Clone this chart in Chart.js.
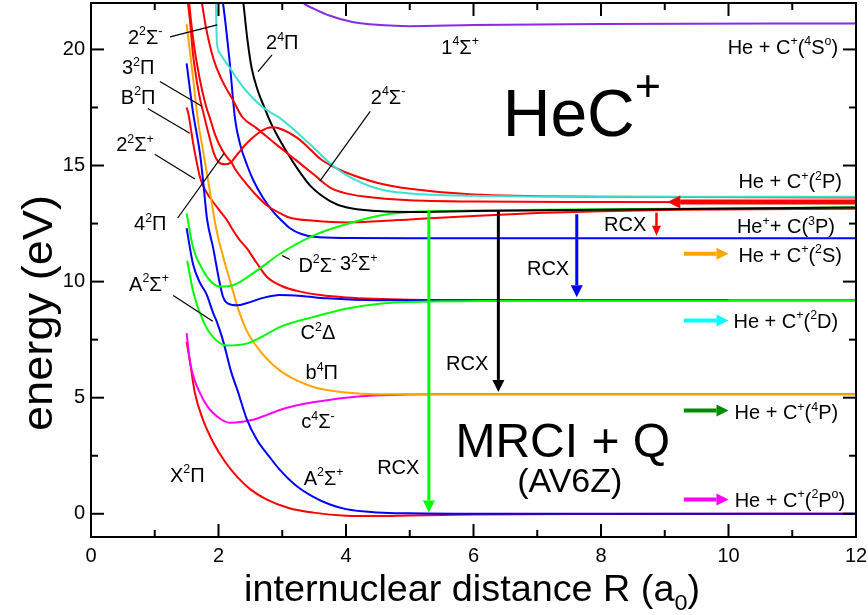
<!DOCTYPE html>
<html>
<head>
<meta charset="utf-8">
<script src="https://cdn.jsdelivr.net/npm/chart.js@4.4.1/dist/chart.umd.min.js"></script>
<style>
  html, body { margin: 0; padding: 0; background: #fff; }
  canvas { display: block; }
</style>
</head>
<body>
<canvas id="chart" width="868" height="615"></canvas>
<script>
// HeC+ potential energy curves, R in a0, E in eV
const rX2Pi = [1.5, 1.55, 1.63, 1.75, 1.92, 2.1, 2.29, 2.5, 2.76, 3.1, 3.49, 4.0, 4.5, 5.0, 6.0, 8.0, 12.0];
const eX2Pi = [7.4, 6.6, 5.2, 4.1, 3.06, 2.25, 1.6, 1.05, 0.61, 0.25, 0.05, -0.08, -0.1, -0.07, -0.03, -0.01, 0];

const rB2Pi = [1.5, 1.53, 1.6, 1.71, 1.8, 1.87, 2.02, 2.12, 2.23, 2.33, 2.44, 2.6, 2.76, 3.0, 3.23, 3.6, 4.0, 5.0, 6.0, 12.0];
const eB2Pi = [17.5, 17.2, 16.0, 14.5, 13.9, 13.6, 13.05, 12.7, 12.2, 11.8, 11.45, 10.8, 10.2, 9.8, 9.6, 9.42, 9.32, 9.22, 9.2, 9.2];

const rc4Sm = [1.5, 1.55, 1.62, 1.71, 1.82, 1.92, 2.05, 2.18, 2.35, 2.54, 2.75, 2.96, 3.2, 3.48, 4.0, 4.53, 5.5, 12.0];
const ec4Sm = [7.78, 6.6, 5.8, 5.2, 4.65, 4.33, 4.05, 3.92, 3.95, 4.05, 4.25, 4.47, 4.65, 4.8, 5.0, 5.1, 5.15, 5.15];

const rb4Pi = [1.5, 1.6, 1.68, 1.76, 1.84, 1.97, 2.08, 2.18, 2.3, 2.44, 2.6, 2.75, 2.95, 3.15, 3.5, 4.0, 4.5, 6.0, 12.0];
const eb4Pi = [21.1, 18.8, 16.9, 15.6, 14.3, 12.2, 11.0, 10.05, 8.9, 7.9, 7.2, 6.7, 6.2, 5.85, 5.45, 5.22, 5.15, 5.15, 5.15];

const rA2Sp = [1.5, 1.6, 1.7, 1.81, 1.92, 1.97, 2.07, 2.2, 2.3, 2.44, 2.6, 2.8, 2.96, 3.2, 3.48, 3.75, 4.0, 4.5, 5.0, 6.0, 12.0];
const eA2Sp = [12.3, 10.76, 10.0, 9.47, 8.62, 8.3, 7.47, 6.1, 5.3, 4.1, 3.2, 2.45, 1.9, 1.25, 0.74, 0.4, 0.2, 0.06, 0.02, 0, 0];

const rBlue2D = [1.5, 1.6, 1.71, 1.76, 1.82, 1.92, 2.0, 2.07, 2.15, 2.29, 2.45, 2.7, 2.96, 3.3, 3.7, 4.5, 6.0, 10.0];
const eBlue2D = [19.4, 17.3, 15.5, 14.3, 12.7, 11.4, 10.2, 9.35, 9.05, 8.98, 9.08, 9.3, 9.42, 9.38, 9.28, 9.2, 9.2, 9.2];

const rC2Delta = [1.51, 1.6, 1.76, 1.92, 2.13, 2.44, 2.7, 2.96, 3.48, 4.0, 4.53, 5.5, 7.0, 12.0];
const eC2Delta = [10.9, 9.6, 8.3, 7.6, 7.25, 7.33, 7.65, 8.04, 8.47, 8.83, 9.05, 9.15, 9.18, 9.18];

const r14Sp = [3.2, 3.33, 3.5, 3.75, 4.1, 4.53, 5.0, 6.0, 8.0, 12.0];
const e14Sp = [22.5, 22.0, 21.75, 21.45, 21.18, 21.05, 21.0, 21.05, 21.1, 21.12];

const r32Sp = [2.0, 2.07, 2.17, 2.26, 2.34, 2.45, 2.54, 2.7, 2.86, 3.0, 3.12, 3.3, 3.5, 4.0, 5.0, 12.0];
const e32Sp = [23.0, 22.0, 19.6, 17.0, 15.9, 15.0, 14.4, 13.6, 13.0, 12.6, 12.3, 12.05, 11.93, 11.88, 11.87, 11.87];

const rRedMin = [1.52, 1.6, 1.7, 1.8, 1.87, 1.95, 2.05, 2.15, 2.2, 2.26, 2.44, 2.6, 2.75, 3.0, 3.12, 3.5, 4.0, 4.5, 5.0, 6.0, 7.0, 8.0, 9.2, 12.0];
const eRedMin = [22.5, 20.5, 18.8, 17.6, 17.0, 16.3, 15.7, 15.3, 15.15, 14.85, 14.2, 13.7, 13.3, 12.9, 12.75, 12.62, 12.55, 12.6, 12.68, 12.83, 12.95, 13.03, 13.1, 13.14];

const rD2Sm = [1.5, 1.6, 1.76, 1.9, 2.02, 2.15, 2.28, 2.6, 2.96, 3.48, 4.0, 4.53, 5.0, 6.0, 8.0, 12.0];
const eD2Sm = [12.94, 11.47, 10.47, 9.95, 9.79, 9.8, 9.9, 10.47, 11.19, 11.97, 12.47, 12.85, 13.0, 13.06, 13.12, 13.2];

const r24Pi = [2.33, 2.39, 2.45, 2.52, 2.62, 2.72, 2.81, 2.95, 3.1, 3.23, 3.45, 3.75, 4.0, 4.5, 5.0, 6.0, 8.0, 12.0];
const e24Pi = [23.3, 22.0, 20.5, 19.2, 18.2, 17.5, 16.9, 16.15, 15.45, 14.9, 14.1, 13.47, 13.2, 13.04, 13.0, 13.04, 13.1, 13.19];

const r24Sm = [1.7, 1.74, 1.8, 1.92, 2.05, 2.23, 2.37, 2.6, 2.91, 3.23, 3.5, 3.75, 4.0, 4.5, 5.0, 6.0, 8.0, 12.0];
const e24Sm = [22.6, 22.0, 21.0, 19.6, 18.7, 17.8, 17.1, 16.6, 15.9, 15.2, 14.6, 14.05, 13.8, 13.6, 13.5, 13.45, 13.43, 13.42];

const rRedBump = [1.5, 1.55, 1.6, 1.7, 1.76, 1.85, 1.93, 2.0, 2.1, 2.18, 2.3, 2.44, 2.6, 2.75, 2.86, 3.0, 3.23, 3.4, 3.59, 3.8, 4.0, 4.5, 5.0, 6.0, 8.0, 12.0];
const eRedBump = [22.5, 21.3, 19.8, 18.0, 17.3, 16.3, 15.5, 15.15, 15.05, 15.1, 15.5, 15.95, 16.35, 16.6, 16.65, 16.55, 16.2, 15.8, 15.3, 14.95, 14.7, 14.25, 14.0, 13.75, 13.66, 13.62];

const r22Sm = [1.955, 1.965, 1.975, 2.02, 2.1, 2.18, 2.3, 2.44, 2.7, 2.96, 3.2, 3.48, 3.75, 4.0, 4.5, 5.0, 6.0, 8.0, 12.0];
const e22Sm = [22.5, 21.2, 20.3, 19.85, 19.5, 19.2, 18.7, 18.2, 17.5, 17.05, 16.5, 15.8, 15.1, 14.6, 14.0, 13.8, 13.7, 13.66, 13.65];

// charge-transfer (RCX) arrows: R, start E, end E
const rcxR = [5.3, 6.39, 7.62, 8.87];
const rcxFrom = [13.05, 13.07, 12.9, 12.97];
const rcxTo = [0.05, 5.25, 9.33, 11.97];

// entrance-channel arrows on the right
const chanE = [11.2, 8.33, 4.45, 0.61];
const chanR0 = 9.3, chanR1 = 10.0;
const inR0 = 12.0, inR1 = 9.04, inE = 13.43;

const xTicks = [0, 2, 4, 6, 8, 10, 12];
const xMinor = [1, 3, 5, 7, 9, 11];
const yTicks = [0, 5, 10, 15, 20];
const yMinor = [2.5, 7.5, 12.5, 17.5];

// curves, bottom first
const curves = [
    [rX2Pi, eX2Pi, '#ff0000'],
    [rB2Pi, eB2Pi, '#ff0000'],
    [rc4Sm, ec4Sm, '#ff00ff'],
    [rb4Pi, eb4Pi, '#ffa500'],
    [rA2Sp, eA2Sp, '#0000ff'],
    [rBlue2D, eBlue2D, '#0000ff'],
    [rC2Delta, eC2Delta, '#00ff00'],
    [r14Sp, e14Sp, '#8a2be2'],
    [r32Sp, e32Sp, '#0000ff'],
    [rRedMin, eRedMin, '#ff0000'],
    [rD2Sm, eD2Sm, '#00ff00'],
    [r24Pi, e24Pi, '#000000'],
    [r24Sm, e24Sm, '#ff0000'],
    [rRedBump, eRedBump, '#ff0000'],
    [r22Sm, e22Sm, '#40e0d0']
];

const FAM = "'Liberation Sans', Arial, Helvetica, sans-serif";

// state labels: text, R, E (centre)
const stateLabels = [
    ['2^2Σ^-', 0.85, 20.55], ['3^2Π', 0.74, 19.25], ['B^2Π', 0.74, 17.97], ['2^2Σ^+', 0.69, 15.92],
    ['4^2Π', 0.93, 12.53], ['A^2Σ^+', 0.91, 9.92], ['2^4Π', 3.0, 20.33], ['2^4Σ^-', 4.66, 17.97],
    ['1^4Σ^+', 5.79, 20.12], ['D^2Σ^-', 3.55, 10.73], ['3^2Σ^+', 4.2, 10.81], ['C^2Δ', 3.56, 7.82],
    ['b^4Π', 3.62, 6.1], ['c^4Σ^-', 3.56, 4.0], ['X^2Π', 1.51, 1.69], ['A^2Σ^+', 3.65, 1.56],
    ['RCX', 4.82, 2.03], ['RCX', 5.9, 6.49], ['RCX', 7.17, 10.6], ['RCX', 8.38, 12.49]
];
const pointers = [
    [1.24, 20.54, 1.98, 21.06], [1.08, 18.62, 1.74, 17.55], [0.89, 17.46, 1.55, 16.39],
    [1.0, 15.49, 1.63, 14.42], [1.36, 12.74, 2.09, 15.53], [1.29, 9.4, 1.91, 8.29],
    [2.84, 19.77, 2.62, 19.04], [4.38, 17.33, 3.59, 14.33], [3.0, 11.12, 3.12, 10.95]
];
const channelLabels = [
    ['He + C^+(^4S^o)', 11.72, 20.12], ['He + C^+(^2P)', 11.78, 14.33], ['He^++ C(^3P)', 11.67, 12.4],
    ['He + C^+(^2S)', 11.78, 11.16], ['He + C^+(^2D)', 11.72, 8.33], ['He + C^+(^4P)', 11.72, 4.39],
    ['He + C^+(^2P^o)', 11.83, 0.61]
];

function richParts(ctx, str, size, supScale) {
    const parts = [];
    for (let i = 0; i < str.length; i++) {
        const c = str[i];
        if ((c === '^' || c === '_') && i + 1 < str.length) { parts.push({ t: str[i + 1], k: c }); i++; }
        else if (parts.length && parts[parts.length - 1].k === '') parts[parts.length - 1].t += c;
        else parts.push({ t: c, k: '' });
    }
    let w = 0;
    parts.forEach(p => {
        p.s = p.k ? size * (supScale || 0.62) : size;
        ctx.font = p.s + 'px ' + FAM;
        p.w = ctx.measureText(p.t).width;
        w += p.w;
    });
    return { parts, w };
}

function drawRich(ctx, str, x, y, size, align, supScale, supRaise) {
    const { parts, w } = richParts(ctx, str, size, supScale);
    let cx = align === 'right' ? x - w : align === 'center' ? x - w / 2 : x;
    const base = y + size * 0.36;
    ctx.textAlign = 'left';
    ctx.textBaseline = 'alphabetic';
    parts.forEach(p => {
        ctx.font = p.s + 'px ' + FAM;
        const dy = p.k === '^' ? -size * (supRaise || 0.42) : p.k === '_' ? size * 0.24 : 0;
        ctx.fillText(p.t, cx, base + dy);
        cx += p.w;
    });
    return w;
}

function arrow(ctx, x0, y0, x1, y1, color, w, headL, headW) {
    const dx = x1 - x0, dy = y1 - y0, L = Math.hypot(dx, dy), ux = dx / L, uy = dy / L;
    const bx = x1 - ux * headL, by = y1 - uy * headL;
    ctx.strokeStyle = color;
    ctx.lineWidth = w;
    ctx.beginPath(); ctx.moveTo(x0, y0); ctx.lineTo(bx, by); ctx.stroke();
    ctx.fillStyle = color;
    ctx.beginPath();
    ctx.moveTo(x1, y1);
    ctx.lineTo(bx - uy * headW / 2, by + ux * headW / 2);
    ctx.lineTo(bx + uy * headW / 2, by - ux * headW / 2);
    ctx.closePath(); ctx.fill();
}

const decor = {
    id: 'decor',
    afterDatasetsDraw(chart) {
        const { ctx, chartArea: a, scales: { x, y } } = chart;
        const px = v => x.getPixelForValue(v), py = v => y.getPixelForValue(v);
        ctx.save();
        ctx.beginPath(); ctx.rect(a.left, a.top, a.right - a.left, a.bottom - a.top); ctx.clip();

        // RCX arrows
        const rcxCol = ['#00ff00', '#000000', '#0000ff', '#ff0000'];
        const rcxW = [3, 3, 3, 2.5];
        rcxR.forEach((r, i) => {
            arrow(ctx, px(r), py(rcxFrom[i]), px(r), py(rcxTo[i]), rcxCol[i], rcxW[i], i === 3 ? 10 : 12, i === 3 ? 9 : 12);
        });
        // incoming channel arrow
        arrow(ctx, px(inR0) + 4, py(inE), px(inR1), py(inE), '#ff0000', 5, 13, 13);
        // exit channel arrows
        const chanCol = ['#ffa500', '#00ffff', '#008c00', '#ff00ff'];
        chanE.forEach((e, i) => arrow(ctx, px(chanR0), py(e), px(chanR1), py(e), chanCol[i], 4, 12, 12));

        // pointer lines
        ctx.strokeStyle = '#000'; ctx.lineWidth = 1.2;
        pointers.forEach(p => {
            ctx.beginPath(); ctx.moveTo(px(p[0]), py(p[1])); ctx.lineTo(px(p[2]), py(p[3])); ctx.stroke();
        });

        ctx.fillStyle = '#000';
        stateLabels.forEach(l => drawRich(ctx, l[0], px(l[1]), py(l[2]), 20, 'center'));
        channelLabels.forEach(l => drawRich(ctx, l[0], px(l[1]), py(l[2]), 20, 'right'));
        drawRich(ctx, 'HeC^+', px(7.7), py(17.31), 66, 'center', 0.68, 0.52);
        drawRich(ctx, 'MRCI + Q', px(7.4), py(3.18), 48, 'center');
        drawRich(ctx, '(AV6Z)', px(7.51), py(1.47), 34, 'center');
        ctx.restore();

        // frame and inward ticks
        ctx.save();
        ctx.strokeStyle = '#000';
        ctx.lineWidth = 2;
        ctx.strokeRect(a.left, a.top, a.right - a.left, a.bottom - a.top);
        const tick = (x0, y0, x1, y1) => { ctx.beginPath(); ctx.moveTo(x0, y0); ctx.lineTo(x1, y1); ctx.stroke(); };
        xTicks.forEach(v => { const p = px(v); tick(p, a.bottom, p, a.bottom - 13); tick(p, a.top, p, a.top + 13); });
        xMinor.forEach(v => { const p = px(v); tick(p, a.bottom, p, a.bottom - 7); tick(p, a.top, p, a.top + 7); });
        yTicks.forEach(v => { const p = py(v); tick(a.left, p, a.left + 13, p); tick(a.right, p, a.right - 13, p); });
        yMinor.forEach(v => { const p = py(v); tick(a.left, p, a.left + 7, p); tick(a.right, p, a.right - 7, p); });
        ctx.restore();
    },
    afterDraw(chart) {
        const ctx = chart.ctx;
        ctx.save();
        ctx.fillStyle = '#000';
        // x title
        const xt = 'internuclear distance R (a_0)';
        const xs = 37;
        const xw = richParts(ctx, xt, xs).w;
        ctx.translate(472, 0);
        ctx.scale(456 / xw, 1);
        drawRich(ctx, xt, 0, 588, xs, 'center');
        ctx.restore();
        // y title
        ctx.save();
        ctx.fillStyle = '#000';
        ctx.translate(40, 313);
        ctx.rotate(-Math.PI / 2);
        ctx.font = '43px ' + FAM;
        const yw = ctx.measureText('energy (eV)').width;
        ctx.scale(236 / yw, 1);
        ctx.textAlign = 'center';
        ctx.textBaseline = 'middle';
        ctx.fillText('energy (eV)', 0, 0);
        ctx.restore();
    }
};

const datasets = curves.map((c, i) => ({
    data: c[0].map((r, k) => ({ x: r, y: c[1][k] })),
    borderColor: c[2],
    borderWidth: 2,
    pointRadius: 0,
    fill: false,
    cubicInterpolationMode: 'monotone',
    order: -i
}));

new Chart(document.getElementById('chart').getContext('2d'), {
    type: 'line',
    data: { datasets: datasets },
    options: {
        responsive: false,
        animation: false,
        events: [],
        layout: { padding: { top: 3, right: 12, left: 0, bottom: 0 } },
        plugins: { legend: { display: false }, tooltip: { enabled: false } },
        scales: {
            x: {
                type: 'linear', min: 0, max: 12,
                grid: { display: false, drawTicks: false }, border: { display: false },
                ticks: { color: '#000', font: { family: FAM, size: 20 }, padding: 7, autoSkip: false, maxRotation: 0 },
                afterBuildTicks: s => { s.ticks = xTicks.map(v => ({ value: v })); },
                afterFit: s => { s.height = 78; s.paddingLeft = 0; s.paddingRight = 0; }
            },
            y: {
                type: 'linear', min: -1, max: 22,
                grid: { display: false, drawTicks: false }, border: { display: false },
                ticks: { color: '#000', font: { family: FAM, size: 20 }, padding: 6, autoSkip: false },
                afterBuildTicks: s => { s.ticks = yTicks.map(v => ({ value: v })); },
                afterFit: s => { s.width = 91; s.paddingTop = 0; s.paddingBottom = 0; }
            }
        }
    },
    plugins: [decor]
});
</script>
</body>
</html>
